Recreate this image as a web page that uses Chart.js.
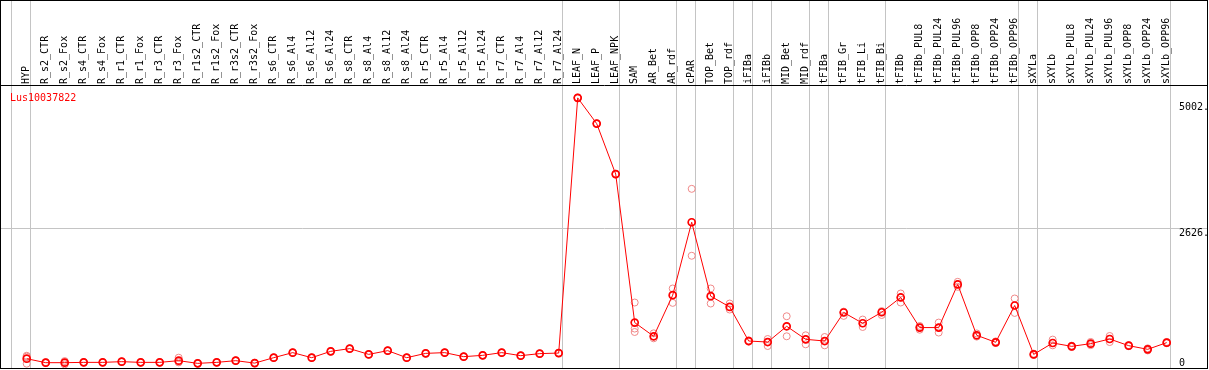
<!DOCTYPE html>
<html><head><meta charset="utf-8">
<script src="https://cdn.jsdelivr.net/npm/chart.js@4/dist/chart.umd.min.js"></script>
<style>html,body{margin:0;padding:0;background:#fff;overflow:hidden}#wrap{width:1209px;height:370px;position:relative}</style>
</head><body><div id="wrap"><canvas id="c" width="1209" height="370"></canvas></div>
<script>
const geneName = 'Lus10037822';
const categories = ['HYP','R_s2_CTR','R_s2_Fox','R_s4_CTR','R_s4_Fox','R_r1_CTR','R_r1_Fox','R_r3_CTR','R_r3_Fox','R_r1s2_CTR','R_r1s2_Fox','R_r3s2_CTR','R_r3s2_Fox','R_s6_CTR','R_s6_Al4','R_s6_Al12','R_s6_Al24','R_s8_CTR','R_s8_Al4','R_s8_Al12','R_s8_Al24','R_r5_CTR','R_r5_Al4','R_r5_Al12','R_r5_Al24','R_r7_CTR','R_r7_Al4','R_r7_Al12','R_r7_Al24','LEAF_N','LEAF_P','LEAF_NPK','SAM','AR_Bet','AR_rdf','cPAR','TOP_Bet','TOP_rdf','iFIBa','iFIBb','MID_Bet','MID_rdf','tFIBa','tFIB_Gr','tFIB_Li','tFIB_Bi','tFIBb','tFIBb_PUL8','tFIBb_PUL24','tFIBb_PUL96','tFIBb_OPP8','tFIBb_OPP24','tFIBb_OPP96','sXYLa','sXYLb','sXYLb_PUL8','sXYLb_PUL24','sXYLb_PUL96','sXYLb_OPP8','sXYLb_OPP24','sXYLb_OPP96'];
const meanValues = [175,100,100,106,106,119,106,106,138,87,106,138,92,194,289,194,313,364,256,326,194,275,289,213,238,289,232,270,281,5078,4594,3645,854,596,1369,2740,1350,1148,507,488,784,539,507,1043,841,1048,1326,760,760,1571,615,483,1175,256,470,407,458,545,420,351,477];
const replicateA = [230,110,130,112,110,125,112,112,194,95,112,145,98,200,295,200,320,370,262,332,200,281,295,219,244,295,238,276,287,5085,4600,3652,1231,652,1495,3368,1495,1212,520,545,973,615,583,1060,911,1070,1401,790,854,1620,650,500,1307,270,534,420,490,602,430,370,490];
const replicateB = [81,92,68,100,102,113,100,100,106,80,100,130,86,188,283,188,306,358,250,320,188,269,283,207,232,283,226,264,275,5070,4588,3638,741,558,1224,2110,1212,1099,495,413,596,445,426,980,771,996,1231,720,666,1526,590,470,1035,245,426,395,430,488,410,330,465];
const replicateC = [214,98,102,106,106,119,106,106,115,86,106,139,92,194,289,194,313,364,256,326,194,275,289,213,238,289,232,270,281,5078,4594,3645,677,590,1369,2740,1350,1148,507,488,784,539,507,1043,841,1048,1326,760,760,1571,615,483,1175,256,470,407,458,545,420,351,477];
const yTickValues = [2626, 5002];
const yTickLabels = {0: '0', 2626: '2626.', 5002: '5002.'};
const groupEnds = [-1, 0, 28, 31, 34, 35, 37, 38, 39, 41, 42, 45, 52, 53, 60];

const FONT = {family: 'DejaVu Sans Mono', size: 10};
const GRAY = '#c4c4c4';

const meanPoints = meanValues.map((v, i) => ({x: i, y: v}));
const repPoints = [];
[replicateA, replicateB, replicateC].forEach(arr => arr.forEach((v, i) => repPoints.push({x: i, y: v})));

const noPad = s => { s.paddingLeft = 0; s.paddingRight = 0; s.paddingTop = 0; s.paddingBottom = 0; };

const framePlugin = {
  id: 'frame',
  beforeDatasetsDraw(chart) {
    const {ctx, chartArea: a, scales: {x}} = chart;
    ctx.save();
    ctx.strokeStyle = GRAY;
    ctx.lineWidth = 1;
    groupEnds.forEach(k => {
      const px = Math.round(x.getPixelForValue(k + 0.2)) + 0.5;
      ctx.beginPath();
      ctx.moveTo(px, 0);
      ctx.lineTo(px, a.bottom);
      ctx.stroke();
    });
    ctx.restore();
  },
  afterDraw(chart) {
    const {ctx, chartArea: a} = chart;
    ctx.save();
    ctx.strokeStyle = '#000';
    ctx.lineWidth = 1;
    ctx.strokeRect(a.left - 0.5, 0.5, a.right - a.left, a.bottom);
    ctx.beginPath();
    ctx.moveTo(a.left, a.top + 0.5);
    ctx.lineTo(a.right, a.top + 0.5);
    ctx.stroke();
    ctx.fillStyle = '#ff0000';
    ctx.font = '10px "DejaVu Sans Mono"';
    ctx.textBaseline = 'middle';
    ctx.fillText(geneName, a.left + 9, a.top + 13);
    ctx.restore();
  }
};

new Chart(document.getElementById('c'), {
  type: 'line',
  data: {
    datasets: [
      {
        label: 'mean',
        data: meanPoints,
        borderColor: '#ff0000',
        borderWidth: 1,
        pointRadius: 3.5,
        pointBorderWidth: 1.7,
        pointBorderColor: '#ff0000',
        pointBackgroundColor: 'rgba(0,0,0,0)',
        tension: 0
      },
      {
        type: 'scatter',
        label: 'replicates',
        data: repPoints,
        showLine: false,
        pointRadius: 3.5,
        pointBorderWidth: 1,
        pointBorderColor: '#f08888',
        pointBackgroundColor: 'rgba(0,0,0,0)'
      }
    ]
  },
  options: {
    responsive: false,
    animation: false,
    layout: {autoPadding: false, padding: {left: 1, right: 1, top: 0, bottom: 2}},
    plugins: {legend: {display: false}, tooltip: {enabled: false}},
    scales: {
      x: {
        type: 'linear',
        position: 'top',
        min: -1.3526,
        max: 62.174,
        afterBuildTicks: s => { s.ticks = categories.map((_, i) => ({value: i})); },
        afterFit: s => { s.height = 85; noPad(s); },
        grid: {display: false, drawTicks: false},
        border: {display: false},
        ticks: {
          autoSkip: false, minRotation: 90, maxRotation: 90, padding: 1, labelOffset: 12,
          font: FONT, color: '#000',
          callback: v => categories[v] ?? ''
        }
      },
      y: {
        type: 'linear',
        position: 'right',
        min: 0,
        max: 5320,
        afterBuildTicks: s => { s.ticks = yTickValues.map(v => ({value: v})); },
        afterFit: s => { s.width = 0; noPad(s); },
        grid: {drawTicks: false, color: c => (c.tick && c.tick.value === 2626) ? GRAY : 'rgba(0,0,0,0)'},
        border: {display: false},
        ticks: {mirror: true, align: 'start', crossAlign: 'far', padding: 1, font: FONT, color: '#000',
          callback: v => yTickLabels[v]}
      },
      yZero: {
        type: 'linear',
        position: 'right',
        min: 0,
        max: 5320,
        afterBuildTicks: s => { s.ticks = [{value: 0}]; },
        afterFit: s => { s.width = 0; noPad(s); },
        grid: {display: false, drawTicks: false},
        border: {display: false},
        ticks: {mirror: true, align: 'end', crossAlign: 'far', padding: -23, font: FONT, color: '#000',
          callback: v => yTickLabels[v]}
      }
    }
  },
  plugins: [framePlugin]
});
</script>
</body></html>
